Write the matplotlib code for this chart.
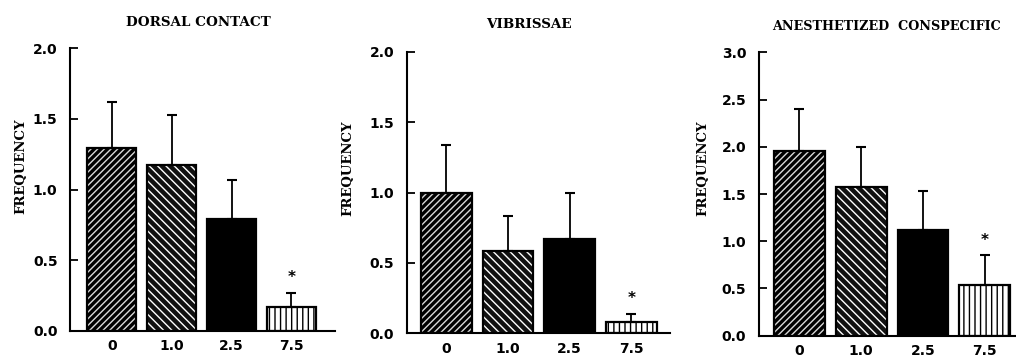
import matplotlib
matplotlib.use("Agg")
import matplotlib.pyplot as plt
import numpy as np

# ---- data ----
doses = ["0", "1.0", "2.5", "7.5"]
titles = ["DORSAL CONTACT", "VIBRISSAE", "ANESTHETIZED  CONSPECIFIC"]
dorsal_mean = [1.29, 1.17, 0.79, 0.17]
dorsal_err = [0.33, 0.36, 0.28, 0.10]
vib_mean = [1.00, 0.585, 0.67, 0.077]
vib_err = [0.34, 0.245, 0.33, 0.06]
anes_mean = [1.96, 1.575, 1.12, 0.54]
anes_err = [0.44, 0.425, 0.41, 0.31]
ymax = [2.0, 2.0, 3.0]
yticks = [[0, 0.5, 1.0, 1.5, 2.0], [0, 0.5, 1.0, 1.5, 2.0], [0, 0.5, 1.0, 1.5, 2.0, 2.5, 3.0]]
signif = [False, False, False, True]

means = [dorsal_mean, vib_mean, anes_mean]
errs = [dorsal_err, vib_err, anes_err]

W, H = 1016, 360
fig = plt.figure(figsize=(W / 100, H / 100), dpi=100)

# axes rectangles in pixels: left, bottom(y from top), top(y from top), width
rects = [(70, 331, 48, 265), (406.7, 333.3, 51.7, 263), (758.7, 335.7, 52.3, 265)]
xlims = [(-0.70, 3.73), (-0.64, 3.62), (-0.66, 3.63)]
title_pos = [(198, 23, 'center', 9.7), (529, 25, 'center', 9.7), (772, 27, 'left', 9.2)]
ylabel_pos = [(21, 166), (348, 168), (703, 168)]

# bar styles: (face, hatch, hatchcolor)
styles = [("black", "/////", "#d8d8d8"),
          ("#111111", "\\\\\\\\", "white"),
          ("black", None, "black"),
          ("white", "|||", "black")]

tickfont = dict(family="DejaVu Sans", weight="bold", size=10)
serif = dict(family="DejaVu Serif", weight="bold")

for i in range(3):
    l, b, t, w = rects[i]
    ax = fig.add_axes([l / W, 1 - b / H, w / W, (b - t) / H])
    x = np.arange(len(doses))
    bw = 0.82
    for j in range(len(doses)):
        face, hatch, hc = styles[j]
        ax.bar(x[j], means[i][j], width=bw, color=face, hatch=hatch,
               edgecolor=hc, linewidth=0, zorder=2)
        ax.bar(x[j], means[i][j], width=bw, fill=False, edgecolor="black",
               linewidth=1.6, zorder=3)
    ax.errorbar(x, means[i], yerr=[np.zeros(4), errs[i]], fmt="none",
                ecolor="black", elinewidth=1.3, capsize=3.5, capthick=1.5, zorder=4)
    for j in range(len(doses)):
        if signif[j]:
            ax.annotate("*", (x[j], means[i][j] + errs[i][j]), xytext=(0, 11),
                        textcoords="offset points", ha="center", va="center",
                        fontsize=11, fontweight="bold", family="DejaVu Sans")
    ax.set_xlim(*xlims[i])
    ax.set_ylim(0, ymax[i])
    ax.set_yticks(yticks[i])
    ax.set_yticklabels(["%.1f" % v for v in yticks[i]], fontdict=tickfont)
    ax.set_xticks(x)
    ax.set_xticklabels(doses, fontdict=tickfont)
    ax.tick_params(axis="y", direction="in", length=6, width=1.3, pad=9)
    ax.tick_params(axis="x", length=0, pad=6)
    for s in ["top", "right"]:
        ax.spines[s].set_visible(False)
    for s in ["left", "bottom"]:
        ax.spines[s].set_linewidth(1.5)
    ax.patch.set_visible(False)

    tx, ty, ha, fs = title_pos[i]
    fig.text(tx / W, 1 - ty / H, titles[i], ha=ha, va="center", fontsize=fs, **serif)
    yx, yy = ylabel_pos[i]
    fig.text(yx / W, 1 - yy / H, "FREQUENCY", rotation=90, ha="center", va="center",
             fontsize=9.5, **serif)

fig.savefig("out.png", dpi=100)
